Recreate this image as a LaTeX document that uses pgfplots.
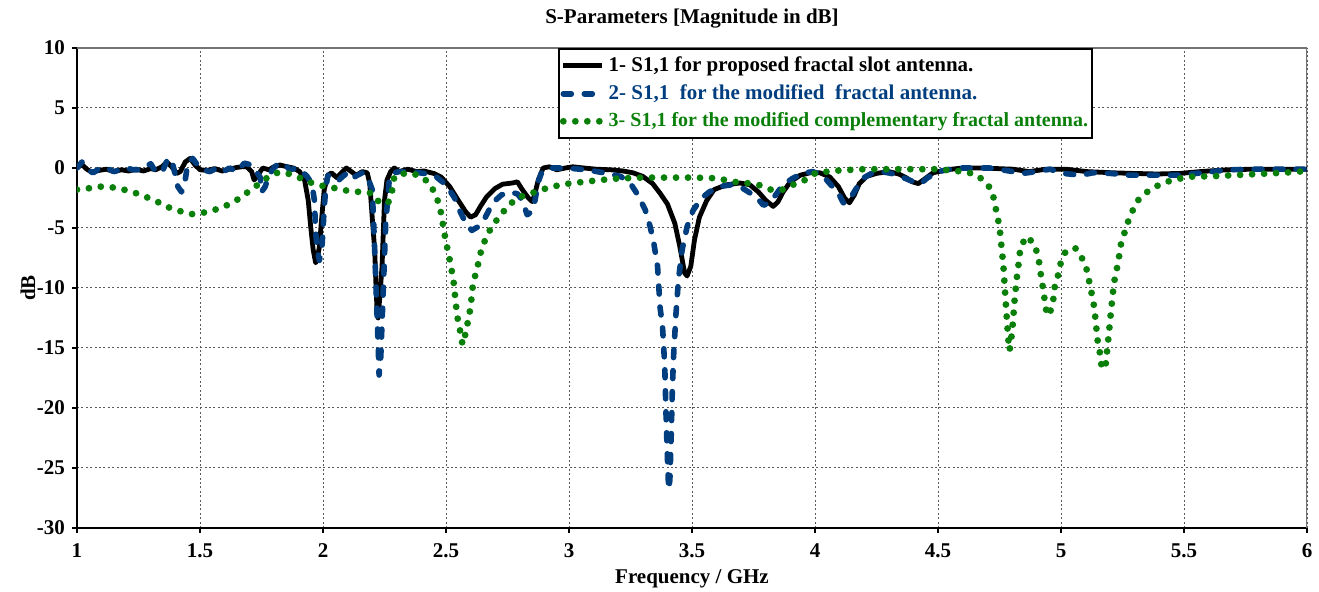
\documentclass[border=0pt]{standalone}
\usepackage{fontspec}
\setmainfont{Liberation Serif}
\usepackage{pgfplots}
\usetikzlibrary{calc}
\pgfplotsset{compat=1.18}
\definecolor{sblue}{RGB}{0,62,128}
\definecolor{sgreen}{RGB}{10,128,10}
\begin{document}
\begin{tikzpicture}
\begin{axis}[
  width=615pt, height=240pt, scale only axis,
  xmin=1, xmax=6, ymin=-30, ymax=10,
  xtick={1,1.5,2,2.5,3,3.5,4,4.5,5,5.5,6},
  ytick={-30,-25,-20,-15,-10,-5,0,5,10},
  xticklabels={1,1.5,2,2.5,3,3.5,4,4.5,5,5.5,6},
  yticklabels={-30,-25,-20,-15,-10,-5,0,5,10},
  axis x line*=bottom, axis y line*=left,
  axis line style={-, black, line width=0.7pt},
  tick align=outside, major tick length=2.5pt,
  tick style={black, line width=0.6pt},
  grid=major,
  major grid style={dash pattern=on 1pt off 1.2pt, color=black!65, line width=0.5pt},
  font=\fontsize{10.5}{12.6}\selectfont\bfseries,
  ticklabel style={font=\fontsize{10.5}{12.6}\selectfont\bfseries},
  xticklabel style={anchor=base, yshift=-12.5pt},
  every axis title shift=0pt,
  title={S-Parameters [Magnitude in dB]},
  title style={at={(0.5,1)}, anchor=base, yshift=12pt, font=\fontsize{10.5}{12.6}\selectfont\bfseries},
  xlabel={Frequency / GHz},
  xlabel style={at={(axis description cs:0.5,0)}, anchor=base, yshift=-28pt},
  ylabel={dB},
  ylabel style={at={(axis description cs:0,0.5)}, anchor=center, yshift=24.5pt},
  legend style={at={(axis cs:2.955,10)}, anchor=north west, draw=black, line width=1pt,
    fill=white, inner xsep=0.5pt, inner ysep=2pt, row sep=1.05pt,
    font=\fontsize{10.5}{12.6}\selectfont\bfseries, cells={anchor=west},
    nodes={inner xsep=1.5pt}},
  legend image code/.code={\draw[#1] (0pt,0pt) -- (19.5pt,0pt);},
  legend cell align=left,
]
\coordinate (ll) at (rel axis cs:0,0);
\coordinate (ur) at (rel axis cs:1,1);
\draw[black!55, line width=0.6pt] (rel axis cs:0,1) -- (rel axis cs:1,1) -- (rel axis cs:1,0);

\addplot[black, line width=2.4pt, line join=round] coordinates {
(1.0,0) (1.02,0.3) (1.04,-0.1) (1.06,-0.35) (1.09,-0.2) (1.12,-0.1) (1.15,-0.3) (1.18,-0.15)
(1.21,-0.25) (1.24,-0.1) (1.27,-0.25) (1.30,-0.05) (1.32,-0.15) (1.345,0.1) (1.365,0.5)
(1.385,0.1) (1.405,-0.45) (1.42,-0.3) (1.44,0.5) (1.46,0.8) (1.48,0.25) (1.50,-0.15)
(1.53,-0.2) (1.56,-0.05) (1.59,-0.25) (1.62,-0.1) (1.65,0.05) (1.67,0.1) (1.69,0.1)
(1.71,-0.3) (1.72,-1.0) (1.735,-0.6) (1.755,0) (1.78,-0.15) (1.80,0.1) (1.825,0.25)
(1.855,0.1) (1.88,0) (1.905,-0.3) (1.925,-1.0) (1.94,-2.7) (1.95,-4.9) (1.96,-6.8)
(1.97,-7.9) (1.975,-7.7) (1.985,-6.6) (1.995,-4.1) (2.005,-1.8) (2.02,-0.6) (2.035,-0.4)
(2.055,-0.8) (2.075,-0.4) (2.095,0) (2.115,-0.3) (2.135,-0.6) (2.16,-0.3) (2.18,-0.4)
(2.19,-1.3) (2.20,-4.1) (2.21,-6.8) (2.215,-9.6) (2.22,-12.0) (2.224,-12.5) (2.23,-11.0)
(2.24,-8.2) (2.245,-5.4) (2.25,-2.7) (2.26,-1.0) (2.275,-0.3) (2.29,0) (2.31,-0.3)
(2.345,-0.1) (2.38,-0.3) (2.41,-0.25) (2.45,-0.45) (2.48,-0.75) (2.515,-1.55) (2.55,-2.7)
(2.58,-3.65) (2.60,-4.1) (2.62,-3.9) (2.64,-3.2) (2.665,-2.4) (2.70,-1.7) (2.73,-1.35)
(2.77,-1.25) (2.79,-1.15) (2.81,-1.8) (2.835,-2.5) (2.85,-2.8) (2.86,-2.25) (2.875,-1.0)
(2.895,0) (2.92,0.1) (2.95,-0.15) (2.985,0) (3.015,0.1) (3.06,0) (3.11,-0.1) (3.17,-0.15)
(3.22,-0.25) (3.26,-0.4) (3.30,-0.7) (3.34,-1.3) (3.37,-2.1) (3.40,-3.0) (3.43,-4.6)
(3.45,-6.5) (3.47,-8.75) (3.48,-9.0) (3.495,-8.2) (3.51,-6.0) (3.53,-4.1) (3.56,-2.7)
(3.59,-1.8) (3.64,-1.4) (3.695,-1.25) (3.735,-1.4) (3.77,-2.0) (3.80,-2.7) (3.83,-3.2)
(3.85,-2.8) (3.87,-2.0) (3.90,-1.15) (3.94,-0.6) (3.98,-0.4) (4.02,-0.4) (4.06,-0.75)
(4.095,-1.55) (4.12,-2.5) (4.14,-2.9) (4.16,-2.25) (4.18,-1.3) (4.21,-0.7) (4.25,-0.45)
(4.30,-0.3) (4.34,-0.5) (4.37,-0.8) (4.395,-1.15) (4.42,-1.3) (4.45,-0.85) (4.48,-0.4)
(4.535,-0.15) (4.60,0) (4.67,0) (4.74,-0.05) (4.805,-0.1) (4.87,-0.3) (4.94,-0.1)
(5.02,-0.1) (5.105,-0.3) (5.21,-0.4) (5.29,-0.45) (5.39,-0.5) (5.485,-0.45) (5.565,-0.3)
(5.675,-0.15) (5.78,-0.1) (5.89,-0.1) (6.0,-0.1)
};
\addlegendentry{1- S1,1 for proposed fractal slot antenna.}

\addplot[sblue, line width=2.8pt, line cap=round, line join=round, dash pattern=on 4pt off 6.5pt] coordinates {
(1.0,0) (1.02,0.5) (1.045,-0.15) (1.065,-0.4) (1.095,0) (1.12,0) (1.15,-0.3) (1.175,-0.15)
(1.20,0) (1.23,-0.15) (1.255,-0.15) (1.275,0.1) (1.30,0.35) (1.31,0) (1.33,-0.45) (1.35,-0.15)
(1.37,0.8) (1.385,0.65) (1.40,-0.6) (1.41,-1.55) (1.425,-2.0) (1.44,-1.0) (1.45,0.4)
(1.47,0.8) (1.49,0.25) (1.51,-0.15) (1.54,-0.3) (1.57,0) (1.595,-0.3) (1.62,0) (1.65,-0.3)
(1.68,0.4) (1.70,0.3) (1.72,0) (1.745,-0.8) (1.75,-2.0) (1.765,-1.55) (1.78,-0.6) (1.80,0)
(1.82,0.4) (1.845,0.3) (1.865,-0.15) (1.895,0) (1.915,-0.3) (1.935,-0.7) (1.955,-1.3)
(1.965,-2.7) (1.97,-5.2) (1.975,-6.6) (1.985,-7.7) (1.995,-6.8) (2.0,-5.2) (2.005,-3.25)
(2.012,-1.55) (2.02,-0.6) (2.04,-0.8) (2.06,-1.1) (2.08,-0.7) (2.10,-0.4) (2.12,-0.85)
(2.14,-0.6) (2.16,-0.4) (2.18,-0.7) (2.20,-1.8) (2.205,-4.1) (2.21,-6.8) (2.215,-9.6)
(2.22,-12.4) (2.225,-15.2) (2.228,-17.25) (2.235,-15.7) (2.24,-12.9) (2.245,-10.2)
(2.25,-7.4) (2.255,-4.6) (2.265,-2.1) (2.27,-0.8) (2.29,-0.4) (2.31,-0.3) (2.36,-0.3)
(2.41,-0.45) (2.455,-0.65) (2.50,-1.4) (2.535,-2.5) (2.56,-3.75) (2.585,-4.75) (2.605,-5.2)
(2.63,-4.9) (2.66,-4.1) (2.69,-2.9) (2.725,-2.25) (2.76,-2.0) (2.79,-2.15) (2.81,-2.65)
(2.83,-3.9) (2.84,-3.75) (2.86,-2.9) (2.875,-1.15) (2.89,-0.3) (2.915,0) (2.95,0) (2.99,0)
(3.045,-0.1) (3.10,-0.25) (3.155,-0.45) (3.21,-0.7) (3.25,-1.3) (3.28,-2.25) (3.31,-3.5)
(3.33,-4.9) (3.345,-6.3) (3.36,-8.2) (3.365,-9.9) (3.37,-11.6) (3.38,-13.2) (3.385,-14.9)
(3.39,-17.1) (3.395,-21.0) (3.40,-24.1) (3.405,-26.8) (3.41,-26.0) (3.415,-22.7)
(3.42,-18.5) (3.425,-15.7) (3.435,-12.1) (3.445,-9.3) (3.46,-6.8) (3.48,-4.9) (3.505,-3.5)
(3.54,-2.5) (3.57,-2.0) (3.61,-1.55) (3.66,-1.4) (3.695,-1.55) (3.73,-2.0) (3.765,-2.5)
(3.79,-3.1) (3.81,-2.95) (3.84,-2.25) (3.87,-1.4) (3.91,-0.85) (3.95,-0.45) (3.99,-0.3)
(4.03,-0.6) (4.06,-1.3) (4.095,-2.1) (4.115,-2.9) (4.135,-2.8) (4.165,-1.8) (4.195,-0.85)
(4.23,-0.45) (4.27,-0.3) (4.31,-0.45) (4.365,-0.85) (4.40,-1.15) (4.43,-1.3) (4.455,-0.85)
(4.50,-0.3) (4.55,-0.1) (4.60,0) (4.71,0) (4.79,-0.25) (4.845,-0.45) (4.90,-0.3)
(4.955,-0.1) (5.01,-0.45) (5.08,-0.6) (5.13,-0.4) (5.20,-0.45) (5.28,-0.6) (5.375,-0.6)
(5.47,-0.6) (5.55,-0.45) (5.615,-0.3) (5.68,-0.15) (5.79,-0.1) (5.89,-0.1) (6.0,-0.1)
};
\addlegendentry{\textcolor{sblue}{2- S1,1\ \ for the modified\ \ fractal antenna.}}

\addplot[sgreen, line width=3.4pt, line cap=round, line join=round, dash pattern=on 0pt off 6pt] coordinates {
(1.0,-1.8) (1.045,-1.7) (1.09,-1.55) (1.14,-1.6) (1.19,-1.8) (1.24,-2.1) (1.285,-2.45)
(1.33,-2.85) (1.375,-3.3) (1.42,-3.6) (1.47,-3.85) (1.52,-3.7) (1.565,-3.45) (1.61,-3.1)
(1.655,-2.6) (1.695,-2.0) (1.735,-1.4) (1.78,-0.7) (1.82,-0.35) (1.865,-0.5) (1.915,-0.9)
(1.96,-1.3) (2.01,-1.55) (2.055,-1.7) (2.10,-1.9) (2.15,-2.0) (2.20,-2.1) (2.23,-2.9)
(2.265,-2.9) (2.28,-2.0) (2.29,-0.7) (2.34,-0.4) (2.39,-0.6) (2.43,-1.2) (2.455,-2.1)
(2.475,-3.2) (2.49,-5.0) (2.50,-6.2) (2.51,-7.1) (2.52,-8.2) (2.53,-9.3) (2.54,-11.3)
(2.545,-12.3) (2.555,-13.3) (2.565,-14.5) (2.57,-14.7) (2.58,-13.7) (2.59,-12.7)
(2.60,-11.6) (2.61,-9.6) (2.625,-8.5) (2.645,-6.7) (2.665,-5.7) (2.69,-4.75) (2.72,-4.0)
(2.75,-3.2) (2.79,-2.5) (2.84,-2.15) (2.89,-1.8) (2.935,-1.55) (2.98,-1.35) (3.04,-1.2)
(3.085,-1.1) (3.13,-1.0) (3.18,-0.9) (3.235,-0.85) (3.3,-0.8) (3.4,-0.8) (3.5,-0.8)
(3.6,-0.85) (3.67,-1.15) (3.72,-1.25) (3.77,-1.4) (3.82,-1.8) (3.87,-1.8) (3.91,-1.4)
(3.96,-1.0) (4.0,-0.45) (4.05,-0.3) (4.1,-0.2) (4.2,-0.1) (4.3,-0.1) (4.4,-0.1) (4.5,-0.1)
(4.55,-0.2) (4.6,-0.3) (4.65,-0.5) (4.69,-1.1) (4.72,-1.9) (4.73,-2.9) (4.74,-3.9)
(4.75,-4.9) (4.755,-5.9) (4.76,-7.0) (4.765,-7.9) (4.77,-9.5) (4.775,-11.1) (4.78,-12.6)
(4.785,-14.1) (4.79,-15.2) (4.795,-14.8) (4.80,-13.8) (4.805,-12.8) (4.81,-11.3)
(4.82,-9.2) (4.83,-7.6) (4.835,-6.6) (4.86,-5.7) (4.89,-6.3) (4.905,-7.2) (4.915,-8.3)
(4.92,-9.3) (4.93,-10.3) (4.935,-11.4) (4.945,-12.3) (4.96,-11.8) (4.97,-10.8)
(4.975,-9.8) (4.99,-8.8) (5.0,-7.8) (5.02,-6.9) (5.06,-6.7) (5.085,-7.5) (5.105,-8.5)
(5.115,-9.5) (5.125,-10.5) (5.135,-11.6) (5.14,-12.6) (5.145,-13.6) (5.15,-14.6)
(5.16,-15.6) (5.165,-16.6) (5.18,-16.7) (5.185,-15.7) (5.19,-14.7) (5.195,-13.7)
(5.2,-12.6) (5.205,-11.6) (5.21,-10.6) (5.215,-9.6) (5.225,-8.6) (5.235,-7.6) (5.24,-6.6)
(5.255,-5.6) (5.27,-4.6) (5.29,-3.6) (5.31,-2.75) (5.35,-2.0) (5.39,-1.5) (5.43,-1.15)
(5.49,-0.85) (5.54,-0.7) (5.6,-0.7) (5.7,-0.6) (5.8,-0.5) (5.9,-0.4) (6.0,-0.25)
};
\addlegendentry{\textcolor{sgreen}{\fontsize{10}{12}\selectfont 3- S1,1 for the modified complementary fractal antenna.}}
\end{axis}
\pgfresetboundingbox
\path ($(ll)+(-38.5pt,-32pt)$) rectangle ($(ur)+(6pt,24pt)$);
\end{tikzpicture}
\end{document}
